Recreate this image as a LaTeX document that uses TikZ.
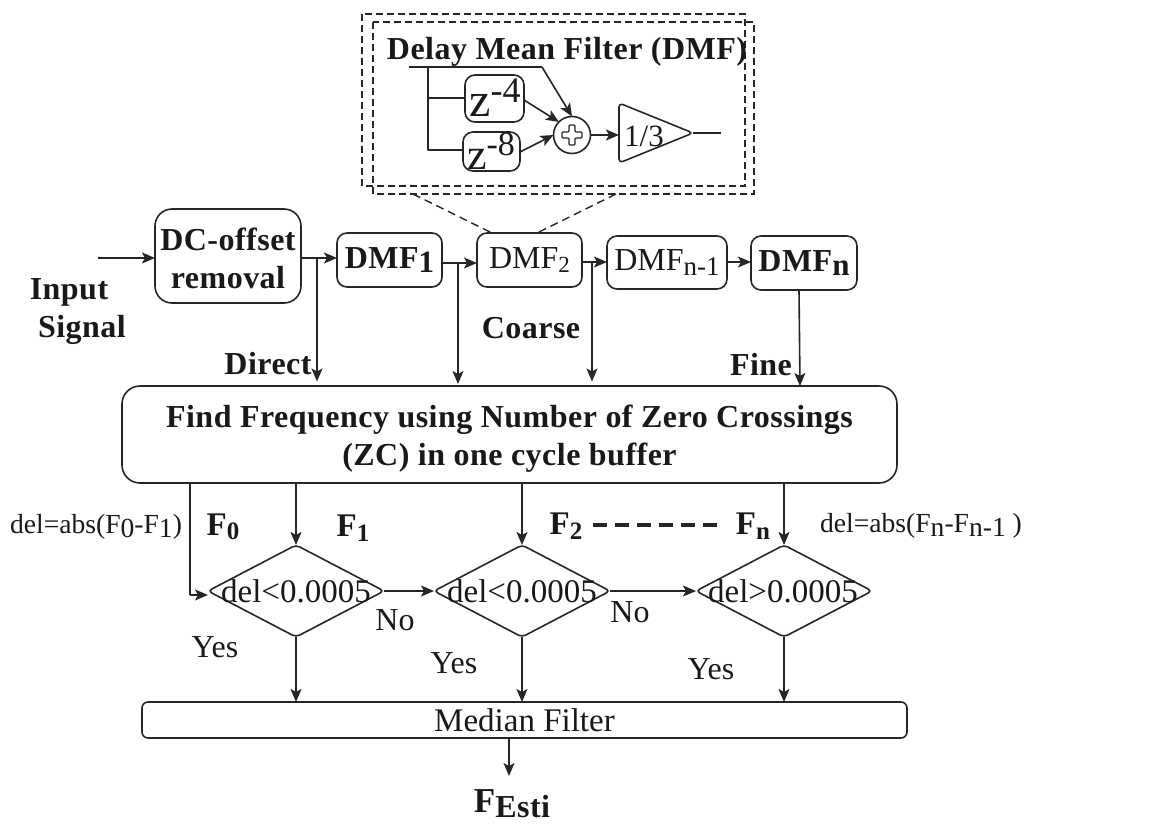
\documentclass[tikz,border=0pt]{standalone}
\usepackage{fontspec}
\setmainfont[BoldFeatures={LetterSpace=1.5}]{Liberation Serif}
\usetikzlibrary{shapes.geometric,arrows.meta,calc}
\newcommand{\fs}[1]{\fontsize{#1}{#1}\selectfont}
\newcommand{\dn}[1]{\raisebox{-0.3ex}{#1}}
\tikzset{
  x=1pt,y=-1pt,
  line/.style={draw=black!85,line width=1.6pt,line join=round},
  conn/.style={line,-{Stealth[length=13pt,width=11pt,inset=3pt]}},
  rbox/.style={line,rounded corners=10pt,inner sep=0pt,outer sep=0pt,align=center,text=black!90},
  dia/.style={line,diamond,rounded corners=4pt,inner sep=0pt,outer sep=0pt,minimum width=176pt,minimum height=92pt},
  dash1/.style={draw=black!85,line width=1.6pt,dash pattern=on 7pt off 4pt},
  dash2/.style={draw=black!85,line width=1.4pt,dash pattern=on 8pt off 5pt},
  lab/.style={inner sep=0pt,text=black!90,align=center},
  bl/.style={lab,font=\fs{32}\bfseries},
  rg/.style={lab,font=\fs{32}}
}
\begin{document}
\begin{tikzpicture}
\useasboundingbox (0,0) rectangle (1152,828);
% inset
\draw[dash1] (362,14) rectangle (745,186);
\draw[dash1] (373,22) rectangle (754,194);
\node[bl] (title) at (567,52) {Delay Mean Filter (DMF)};
\node[rbox,minimum width=59pt,minimum height=47pt] (z4) at (494.5,98.5) {};
\node[lab,font=\fs{48}] (z4t) at (495,97.5) {z\raisebox{0.3em}{\fs{36}-4}};
\node[rbox,minimum width=57pt,minimum height=39pt] (z8) at (491.5,151.5) {};
\node[lab,font=\fs{44}] (z8t) at (491,151) {z\raisebox{0.32em}{\fs{34}-8}};
\node[line,circle,minimum size=37pt,inner sep=0pt,outer sep=0pt] (sum) at (572,135) {};
\draw[line,rounded corners=1pt,fill=white,line width=1.4pt] ($(sum)+(-10,-3)$) -- ($(sum)+(-3,-3)$) -- ($(sum)+(-3,-10)$) -- ($(sum)+(3,-10)$) -- ($(sum)+(3,-3)$) -- ($(sum)+(10,-3)$) -- ($(sum)+(10,3)$) -- ($(sum)+(3,3)$) -- ($(sum)+(3,10)$) -- ($(sum)+(-3,10)$) -- ($(sum)+(-3,3)$) -- ($(sum)+(-10,3)$) -- cycle;
\coordinate (triA) at (619,103);
\coordinate (triB) at (693,133);
\coordinate (triC) at (619,163);
\coordinate (triIn) at (619,135);
\draw[line,rounded corners=4pt] (triA) -- (triB) -- (triC) -- cycle;
\node[rg,font=\fs{31}] (third) at (644,136) {1/3};
\coordinate (triOut) at (721,133);
\draw[line] (triB) -- (triOut);
\coordinate (in0) at (409,67);
\coordinate (in1) at (542,67);
\coordinate (inJ) at (428,67);
\coordinate (inK) at (428,150);
\coordinate (inL) at (428,98);
\draw[line] (in0) -- (in1);
\draw[conn] (in1) -- (sum.north);
\draw[line] (inJ) -- (inK) -- (z8.west |- inK);
\draw[line] (inL) -- (z4.west |- inL);
\draw[conn] (z4.east |- 0,100) -- (sum.135);
\draw[conn] (z8.east |- 0,152) -- (sum.west);
\draw[conn] (sum.east) -- (triIn);
% chain
\coordinate (input) at (98,258);
\node[rbox,rounded corners=17pt,minimum width=146pt,minimum height=94pt] (dc) at (228,256) {};
\node[lab,font=\fs{32}\bfseries] (dct) at (228,258) {DC-offset\\[6pt]removal};
\node[rbox,minimum width=105pt,minimum height=54pt,font=\fs{32}\bfseries] (d1) at (389.5,260) {DMF\dn{\fs{31}1}};
\node[rbox,minimum width=105pt,minimum height=54pt,font=\fs{32}] (d2) at (529.5,260) {DMF\dn{\fs{23}2}};
\node[rbox,minimum width=120pt,minimum height=53pt,font=\fs{32}] (d3) at (667,262.5) {DMF\dn{\fs{27}n-1}};
\node[rbox,minimum width=106pt,minimum height=54pt,font=\fs{32}\bfseries] (d4) at (804,263) {DMF\dn{\fs{31}n}};
\node[rbox,rounded corners=18pt,minimum width=775pt,minimum height=97pt] (zc) at (509.5,434.5) {};
\node[lab,font=\fs{32}\bfseries] (zct) at (509.5,439) {Find Frequency using Number of Zero Crossings\\[6pt](ZC) in one cycle buffer};
\draw[dash2] (413,194) -- (d2.north west -| 492,233);
\draw[dash2] (616,194) -- (d2.north west -| 537,233);
\draw[conn] (input) -- (dc.west |- input);
\draw[conn] (dc.east |- 0,258) -- (d1.west |- 0,258);
\draw[conn] (d1.east |- 0,263) -- (d2.west |- 0,263);
\draw[conn] (d2.east |- 0,262) -- (d3.west |- 0,262);
\draw[conn] (d3.east |- 0,262) -- (d4.west |- 0,262);
\coordinate (e1) at (317,381.5);
\coordinate (e2) at (458,384);
\coordinate (e3) at (592,381.5);
\draw[conn] (317,258) -- (e1);
\draw[conn] (458,263) -- (e2);
\draw[conn] (592,262) -- (e3);
\draw[conn] (d4.south -| 799,0) -- (zc.north -| 800,0);
\node[bl] (lin) at (69,292) {Input};
\node[bl] (lsig) at (82,330) {Signal};
\node[bl] (ldir) at (268,364) {Direct};
\node[bl] (lco) at (531,328) {Coarse};
\node[bl] (lfi) at (761,365) {Fine};
% diamonds
\node[dia] (c1) at (296,591) {};
\node[dia] (c2) at (522,591) {};
\node[dia] (c3) at (784,591) {};
\node[rg,font=\fs{33}] (t1) at (296,591) {del<0.0005};
\node[rg,font=\fs{33}] (t2) at (522,591) {del<0.0005};
\node[rg,font=\fs{33}] (t3) at (783,591) {del>0.0005};
\coordinate (f0a) at (190,595);
\draw[line] (zc.south -| f0a) -- (f0a);
\draw[conn] (f0a) -- (c1.west |- f0a);
\draw[conn] (zc.south -| c1.north) -- (c1.north);
\draw[conn] (zc.south -| c2.north) -- (c2.north);
\draw[conn] (zc.south -| c3.north) -- (c3.north);
\draw[conn] (c1.east) -- (c2.west);
\draw[conn] (c2.east) -- (c3.west);
\node[rbox,rounded corners=6pt,minimum width=765pt,minimum height=36pt,font=\fs{33}] (med) at (524.5,720) {Median Filter};
\draw[conn] (c1.south) -- (med.north -| c1.south);
\draw[conn] (c2.south) -- (med.north -| c2.south);
\draw[conn] (c3.south) -- (med.north -| c3.south);
\coordinate (out) at (509,776);
\draw[conn] (med.south -| out) -- (out);
\node[bl,font=\fs{35}\bfseries] (fe) at (512,804) {F\dn{\fs{32}Esti}};
\node[rg,font=\fs{27.6}] (l0) at (96,527) {del=abs(F\dn{\fs{27.6}0}-F\dn{\fs{27.6}1})};
\node[rg,font=\fs{27.6}] (ln) at (921,526) {del=abs(F\dn{\fs{27.6}n}-F\dn{\fs{27.6}n-1} )};
\node[bl,font=\fs{33}\bfseries] (f0) at (223,527) {F\dn{\fs{25}0}};
\node[bl,font=\fs{33}\bfseries] (f1) at (353,528) {F\dn{\fs{25}1}};
\node[bl,font=\fs{33}\bfseries] (f2) at (566,526) {F\dn{\fs{25}2}};
\node[bl,font=\fs{33}\bfseries] (fn) at (753,526) {F\dn{\fs{25}n}};
\coordinate (dA) at (593,525);
\coordinate (dB) at (717,525);
\draw[draw=black!85,line width=3.2pt,dash pattern=on 14pt off 8pt] (dA) -- (dB);
\node[rg] (n1) at (395,620) {No};
\node[rg] (n2) at (630,612) {No};
\node[rg] (y1) at (215,647) {Yes};
\node[rg] (y2) at (454,663) {Yes};
\node[rg] (y3) at (711,669) {Yes};
\end{tikzpicture}
\end{document}
